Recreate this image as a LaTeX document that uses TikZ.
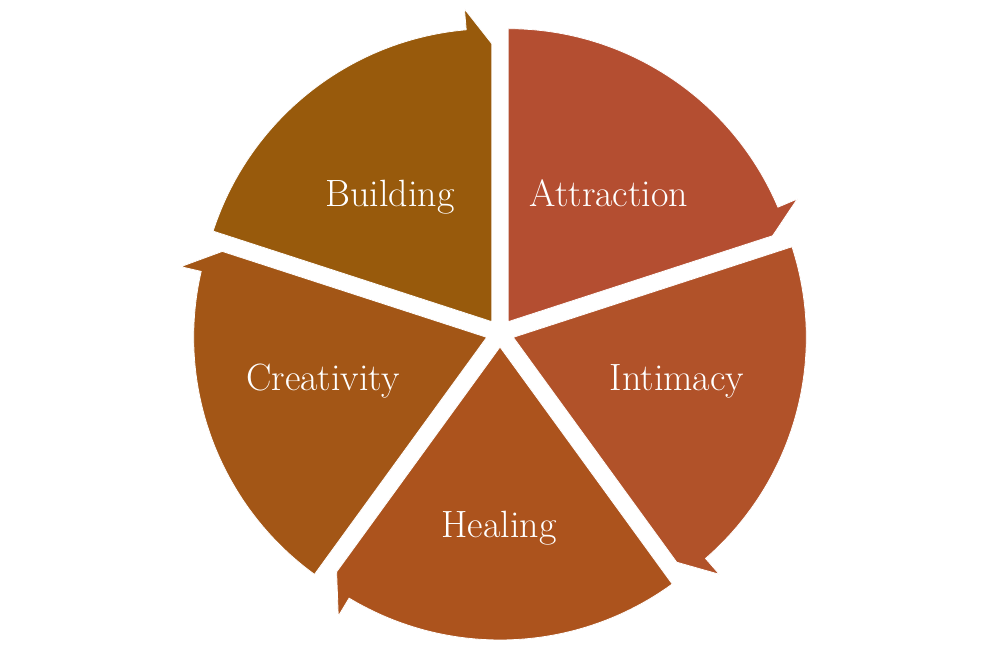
\documentclass[tikz,border=0pt]{standalone}
\definecolor{cBuild}{HTML}{985A0C}
\definecolor{cAttr}{HTML}{B44E31}
\definecolor{cInti}{HTML}{B15229}
\definecolor{cHeal}{HTML}{AC531D}
\definecolor{cCrea}{HTML}{A35616}
\begin{document}
\begin{tikzpicture}[x=0.75pt,y=0.75pt,
  seg/.style={draw=white,line width=0.6pt,line join=miter},
  lbl/.style={text=white,anchor=base,inner sep=0pt,font=\fontsize{28.5}{32}\selectfont}]
\useasboundingbox (0,0) rectangle (1000,666);
\foreach \a/\c in {162/cBuild, 90/cAttr, 18/cInti, -54/cHeal, -126/cCrea} {
  \pgfmathsetmacro\b{\a-72}
  \pgfmathsetmacro\m{\a-36}
  \pgfmathsetmacro\bb{\b+5}
  \begin{scope}[shift={(500,333)}, shift={(\m:14)}]
    \fill[fill=\c, seg] (0,0) -- (\a:293) arc[start angle=\a, end angle=\bb, radius=293]
      -- (\bb:314) -- (\b:278) -- cycle;
  \end{scope}
}
\node[lbl] (building) at (390,459) {Building};
\node[lbl] (attraction) at (609,459) {Attraction};
\node[lbl] (creativity) at (323,275) {Creativity};
\node[lbl] (intimacy) at (677,275) {Intimacy};
\node[lbl] (healing) at (499,128) {Healing};
\end{tikzpicture}
\end{document}
